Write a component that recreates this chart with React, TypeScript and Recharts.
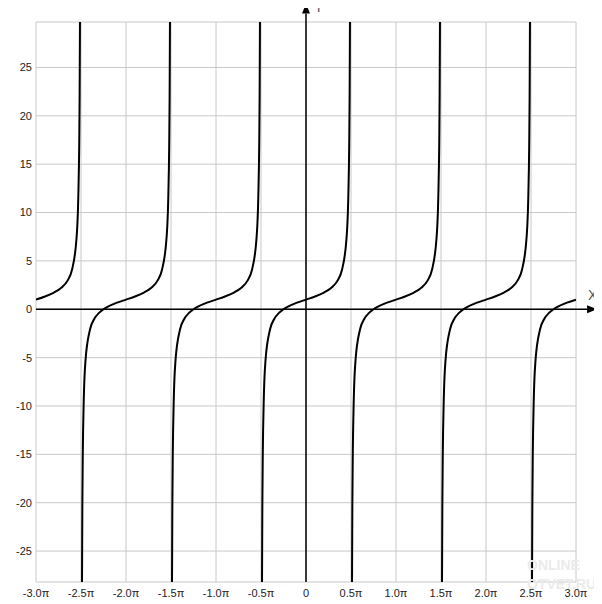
import React from 'react';
import { LineChart, Line, XAxis, YAxis, CartesianGrid, ReferenceLine } from 'recharts';

// x is measured in units of pi
const xTicks = [-3, -2.5, -2, -1.5, -1, -0.5, 0, 0.5, 1, 1.5, 2, 2.5, 3];
const yTicks = [-25, -20, -15, -10, -5, 0, 5, 10, 15, 20, 25];

// one branch of the curve (offset from branch centre, y)
const branchOffsets = [-0.49, -0.485, -0.48, -0.47, -0.45, -0.4, -0.35, -0.3, -0.25, -0.2, -0.1, 0, 0.1, 0.2, 0.25, 0.3, 0.35, 0.4, 0.45, 0.47, 0.48, 0.485, 0.49];
const branchValues = [-30.8, -20.2, -14.9, -9.6, -5.3, -2.1, -0.96, -0.38, 0, 0.27, 0.68, 1, 1.32, 1.73, 2, 2.38, 2.96, 4.08, 7.31, 11.6, 16.9, 22.2, 32.8];
const branchCenters = [-3, -2, -1, 0, 1, 2, 3];

const branches = branchCenters.map((c) =>
  branchOffsets
    .map((o, i) => ({ x: c + o, y: branchValues[i] }))
    .filter((p) => p.x >= -3 && p.x <= 3)
);

const fmtX = (v: number) => (v === 0 ? '0' : `${v.toFixed(1)}π`);

const arrowShape = (props: any) => {
  const { x1, y1, x2, y2 } = props;
  const dx = x2 - x1;
  const dy = y2 - y1;
  const len = Math.sqrt(dx * dx + dy * dy) || 1;
  const ux = dx / len;
  const uy = dy / len;
  const head = 10;
  const half = 4;
  const bx = x2 - ux * head;
  const by = y2 - uy * head;
  const pts = `${x2},${y2} ${bx - uy * half},${by + ux * half} ${bx + uy * half},${by - ux * half}`;
  return (
    <g>
      <line x1={x1} y1={y1} x2={bx} y2={by} stroke="#000" strokeWidth={1.5} />
      <polygon points={pts} fill="#000" />
    </g>
  );
};

const axisLabel: React.CSSProperties = { position: 'absolute', color: '#555', fontSize: 14, lineHeight: '14px' };

function App(): JSX.Element {
  return (
    <div style={{ position: 'relative', width: 602, height: 604, margin: '-8px 0 0 -8px', fontFamily: 'Liberation Sans, Arial, sans-serif' }}>
      <LineChart width={602} height={604} margin={{ top: 22, right: 26, bottom: 0, left: 8 }}>
        <CartesianGrid stroke="#c8c8c8" strokeWidth={1} />
        <XAxis
          dataKey="x"
          type="number"
          domain={[-3, 3]}
          ticks={xTicks}
          tickFormatter={fmtX}
          allowDataOverflow
          axisLine={false}
          tickLine={false}
          tickSize={0}
          tickMargin={7}
          height={22}
          interval={0}
          tick={{ fontSize: 11, fill: '#222' }}
        />
        <YAxis
          type="number"
          domain={[-28.2, 29.7]}
          ticks={yTicks}
          allowDataOverflow
          axisLine={false}
          tickLine={false}
          tickSize={0}
          tickMargin={4}
          width={28}
          interval={0}
          tick={{ fontSize: 11, fill: '#222' }}
        />
        {branches.map((b, i) => (
          <Line
            key={i}
            data={b}
            dataKey="y"
            type="monotone"
            dot={false}
            stroke="#000"
            strokeWidth={2}
            isAnimationActive={false}
          />
        ))}
        <ReferenceLine segment={[{ x: -3, y: 0 }, { x: 3.234, y: 0 }]} ifOverflow="visible" shape={arrowShape} />
        <ReferenceLine segment={[{ x: 0, y: -28.2 }, { x: 0, y: 31.6 }]} ifOverflow="visible" shape={arrowShape} />
      </LineChart>
      <div style={{ ...axisLabel, left: 588, top: 288 }}>X</div>
      <div style={{ ...axisLabel, left: 314, top: 0 }}>Y</div>
      <div style={{ position: 'absolute', left: 527, top: 556, color: '#ebebeb', fontSize: 14, fontWeight: 'bold', lineHeight: '19px' }}>
        ONLINE
        <br />
        OTVET.RU
      </div>
    </div>
  );
}

export default App;
